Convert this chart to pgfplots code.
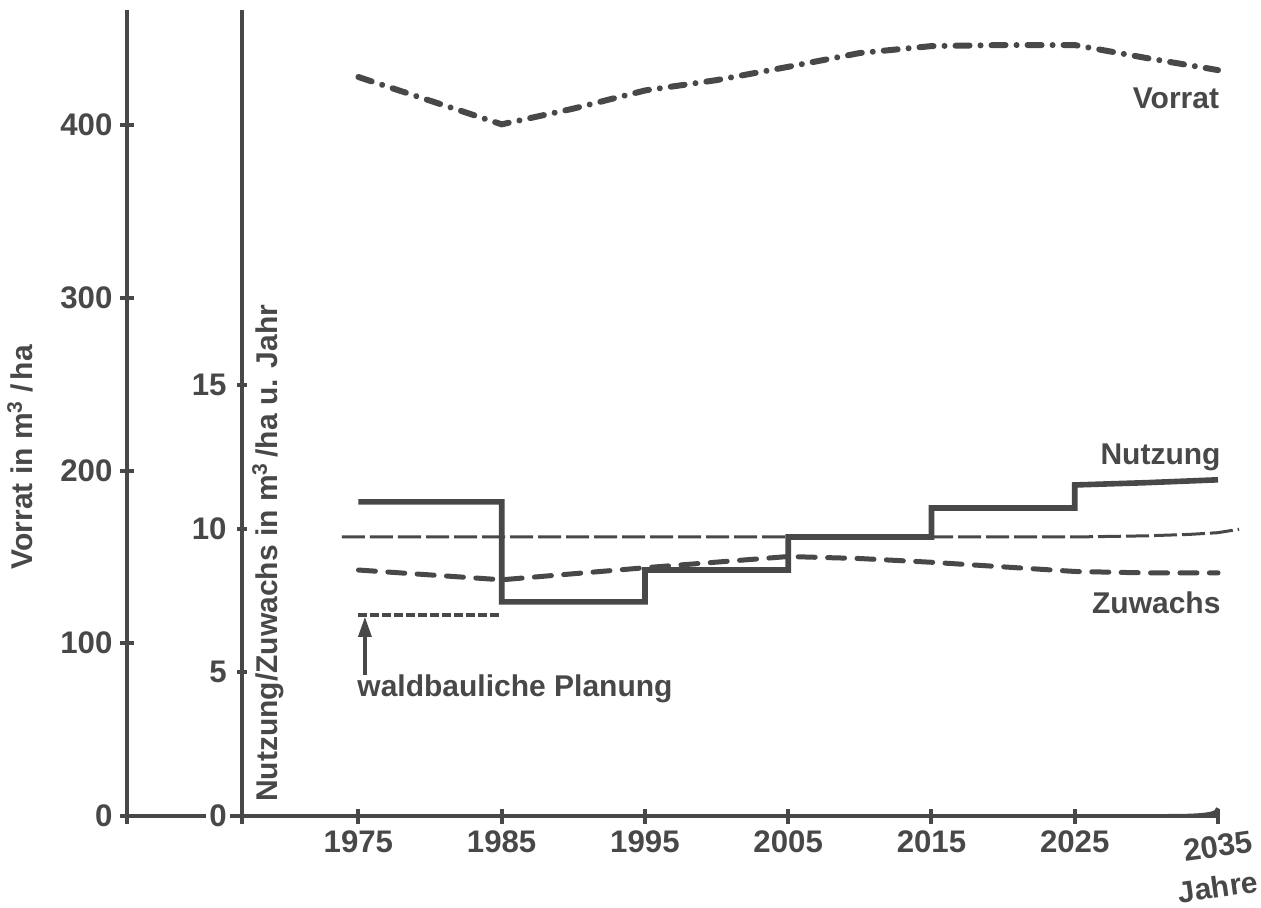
\documentclass[border=0pt]{standalone}
\usepackage{fontspec}
\setmainfont{Liberation Sans}
\usepackage{graphicx}
\usepackage{pgfplots}
\pgfplotsset{compat=1.18}
\usetikzlibrary{arrows.meta}
\definecolor{ink}{RGB}{72,72,72}
\pgfplotsset{
  myax/.style={
    scale only axis, height=403pt, clip=false,
    tick style={ink, line width=2pt},
    tick align=outside,
    tick label style={text=ink, font=\fontsize{15.6}{18}\selectfont\bfseries},
    label style={text=ink, font=\fontsize{15}{18}\selectfont\bfseries},
  },
  nolinearrows/.style={
    axis line style={ink, line width=2pt, -},
    every outer x axis line/.append style={-},
    every outer y axis line/.append style={-},
    x axis line style={-}, y axis line style={-},
  }
}
\begin{document}
\begin{tikzpicture}[font=\fontsize{15}{18}\selectfont\bfseries]
\useasboundingbox (-63.5pt,-46pt) rectangle (567pt,408pt);
% ---------------- Vorrat axis ----------------
\begin{axis}[myax,
  at={(0pt,0pt)}, anchor=south west, width=545.5pt,
  xmin=1958.85, xmax=2035, ymin=0, ymax=466.6,
  axis x line=bottom, axis y line=left, nolinearrows,
  xtick={1975,1985,1995,2005,2015,2025,2035},
  xticklabels={1975,1985,1995,2005,2015,2025,\rotatebox{8}{2035}},
  extra x ticks={1958.85,1966.87}, extra x tick labels={},
  ytick={0,100,200,300,400}, yticklabels={0,100,200,300,400},
  major tick length=7.5pt,
  ylabel={Vorrat in m\textsuperscript{3}\hspace{4pt}/\hspace{2pt}ha},
  ylabel style={at={(axis description cs:-0.098,0.445)}, anchor=center},
]
\addplot[ink, line width=3pt, line cap=round,
  dash pattern=on 7pt off 5.5pt on 0.01pt off 5.5pt]
  coordinates {(1975,427.8) (1985,400.4) (1990,409.5) (1995,420) (2000,426) (2005,433.7)
               (2010,441.7) (2015,445.7) (2020,446.3) (2025,446.3) (2030,438.8) (2035,431.8)};
\draw[ink, line width=2pt] (axis cs:2031.5,0) .. controls (axis cs:2034.5,0) and (axis cs:2035,1.5) .. (axis cs:2035,4.5);
\node[anchor=base east, inner sep=0pt, text=ink] at (axis cs:2035.1,409.7) {Vorrat};
\node[text=ink, inner sep=0pt, yshift=-35.5pt, rotate=8] at (axis description cs:1,0) {Jahre};
\end{axis}
% ---------------- Nutzung / Zuwachs axis ----------------
\begin{axis}[myax,
  at={(57.5pt,0pt)}, anchor=south west, width=488pt,
  xmin=1966.87, xmax=2035, ymin=0, ymax=28.05,
  axis x line=none, axis y line=left, nolinearrows,
  ytick={0,5,10,15}, yticklabels={0,5,10,15},
  yticklabel style={fill=white, inner sep=1.5pt, xshift=-3.5pt},
  major tick length=5pt,
  ylabel={Nutzung/Zuwachs in m\textsuperscript{3}\,/ha u. Jahr},
  ylabel style={at={(axis description cs:0.0266,0.326)}, anchor=center},
]
% thin dashed reference line
\addplot[ink, line width=1.5pt, dash pattern=on 11.5pt off 2.5pt]
  coordinates {(1973.85,9.71) (2025,9.71) (2030,9.75) (2033,9.8) (2035,9.86) (2036.47,9.98)};
% Zuwachs
\addplot[ink, line width=2.5pt, line cap=round, dash pattern=on 8.5pt off 6.2pt]
  coordinates {(1975,8.56) (1985,8.22) (1995,8.64) (2005,9.03) (2010,8.96) (2015,8.83)
               (2020,8.67) (2025,8.51) (2030,8.46) (2035,8.46)};
% Nutzung
\addplot[ink, line width=2.8pt, line join=miter]
  coordinates {(1975,10.93) (1985,10.93) (1985,7.45) (1995,7.45) (1995,8.56) (2005,8.56)
               (2005,9.71) (2015,9.71) (2015,10.72) (2025,10.72) (2025,11.52) (2030,11.6) (2035,11.70)};
% waldbauliche Planung
\addplot[ink, line width=1.7pt, dash pattern=on 4.3pt off 1.7pt]
  coordinates {(1975,7.0) (1985,7.0)};
\draw[ink, line width=1.6pt, -{Triangle[length=10pt,width=6.5pt]}] (axis cs:1975.45,4.91) -- (axis cs:1975.45,6.93);
\node[anchor=base west, inner sep=0pt, text=ink] at (axis cs:1974.9,4.15) {waldbauliche Planung};
\node[anchor=base east, inner sep=0pt, text=ink] at (axis cs:2035.2,12.22) {Nutzung};
\node[anchor=base east, inner sep=0pt, text=ink] at (axis cs:2035.2,7.06) {Zuwachs};
\end{axis}
\end{tikzpicture}
\end{document}
